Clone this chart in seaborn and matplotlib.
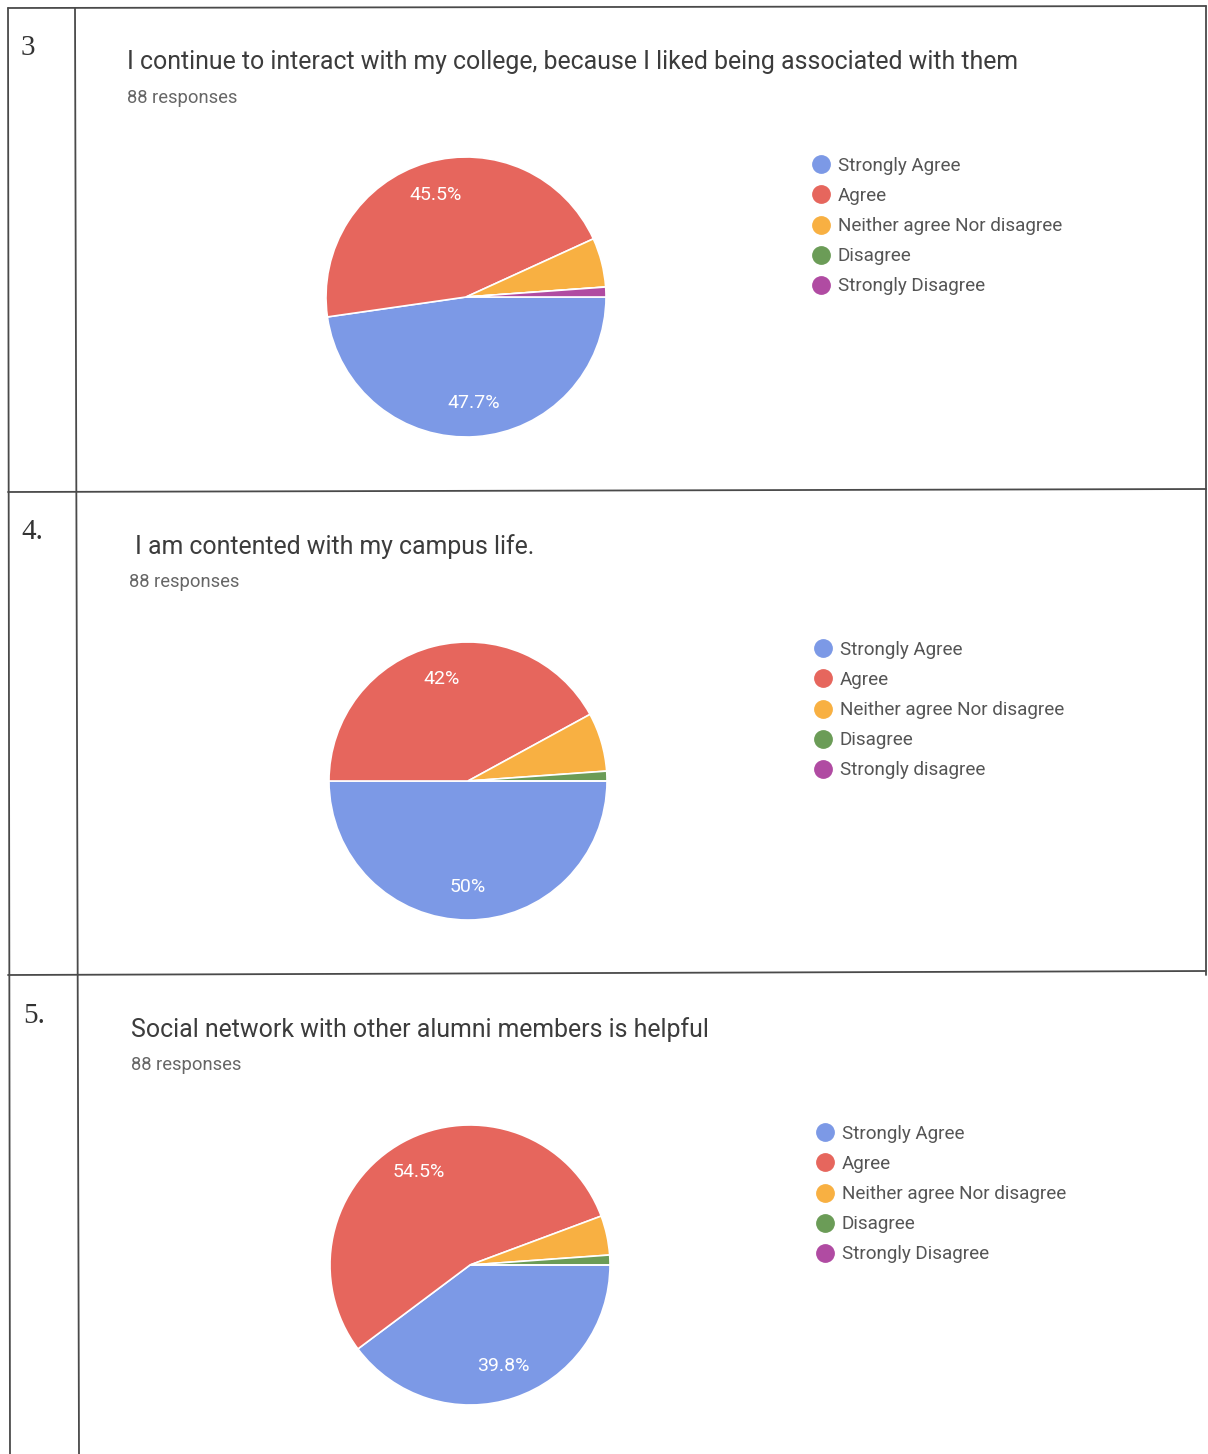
import matplotlib
matplotlib.use("Agg")
import matplotlib.pyplot as plt
from matplotlib.lines import Line2D
import seaborn as sns

# ---- data ----
categories_a = ["Strongly Agree", "Agree", "Neither agree Nor disagree", "Disagree", "Strongly Disagree"]
categories_b = ["Strongly Agree", "Agree", "Neither agree Nor disagree", "Disagree", "Strongly disagree"]

q3_title = "I continue to interact with my college, because I liked being associated with them"
q4_title = "I am contented with my campus life."
q5_title = "Social network with other alumni members is helpful"
responses_label = "88 responses"
row_numbers = ["3", "4.", "5."]

q3_counts = [42, 40, 5, 0, 1]
q4_counts = [44, 37, 6, 1, 0]
q5_counts = [35, 48, 4, 1, 0]

colors = ["#7c99e6", "#e6665d", "#f8b042", "#6b9c57", "#b04ba2"]

sns.set_theme(style="white")
plt.rcParams["font.family"] = ["Roboto", "DejaVu Sans"]

W, H = 1208, 1454
fig = plt.figure(figsize=(W / 100, H / 100), dpi=100)
fig.patch.set_facecolor("white")


def fx(x):
    return x / W


def fy(y):
    return 1 - y / H


def hline(x0, x1, y0, y1):
    fig.add_artist(Line2D([fx(x0), fx(x1)], [fy(y0), fy(y1)], color="#4a4a4a", lw=1.3))


# table grid
hline(8, 1206, 8, 6)
hline(8, 1206, 492, 489)
hline(8, 1206, 975, 971)
hline(8, 10, 8, 1454)
hline(75, 79, 8, 1454)
hline(1206, 1206, 6, 975)


def fmt_pct(p):
    if p < 10:
        return ""
    s = f"{p:.1f}"
    if s.endswith(".0"):
        s = s[:-2]
    return s + "%"


def panel(counts, labels, title, num, num_xy, title_xy, resp_xy, center, R, leg_xy):
    fig.text(fx(num_xy[0]), fy(num_xy[1]), num, family=["Liberation Serif"], fontsize=21,
             color="#333333", ha="left", va="center")
    fig.text(fx(title_xy[0]), fy(title_xy[1]), title, fontsize=17.9, color="#3c3c3c",
             ha="left", va="center")
    fig.text(fx(resp_xy[0]), fy(resp_xy[1]), responses_label, fontsize=13.2, color="#666666",
             ha="left", va="center")
    cx, cy = center
    ax = fig.add_axes([fx(cx - R), fy(cy + R), 2 * R / W, 2 * R / H])
    ax.pie(counts, colors=colors, startangle=0, counterclock=False,
           autopct=fmt_pct, pctdistance=0.76,
           wedgeprops=dict(edgecolor="white", linewidth=1.2),
           textprops=dict(color="white", fontsize=14))
    ax.set_xlim(-1, 1)
    ax.set_ylim(-1, 1)
    ax.set_aspect("equal")
    ax.axis("off")
    handles = [Line2D([], [], marker="o", linestyle="", markersize=12.5,
                      markerfacecolor=c, markeredgecolor=c) for c in colors]
    fig.legend(handles, labels, loc="upper left",
               bbox_to_anchor=(fx(leg_xy[0]), fy(leg_xy[1])),
               frameon=False, fontsize=13.6, handlelength=0.8, handletextpad=0.5,
               labelspacing=0.64, borderpad=0, borderaxespad=0, labelcolor="#555555")


panel(q3_counts, categories_a, q3_title, row_numbers[0], (21, 48), (127, 62), (127, 98),
      (466, 297), 140, (813, 157))
panel(q4_counts, categories_b, q4_title, row_numbers[1], (21, 532), (135, 547), (129, 582),
      (468, 781), 139, (815, 641))
panel(q5_counts, categories_a, q5_title, row_numbers[2], (23, 1016), (131, 1030), (131, 1065),
      (470, 1265), 140, (817, 1125))

fig.savefig("out.png", dpi=100, facecolor="white")
